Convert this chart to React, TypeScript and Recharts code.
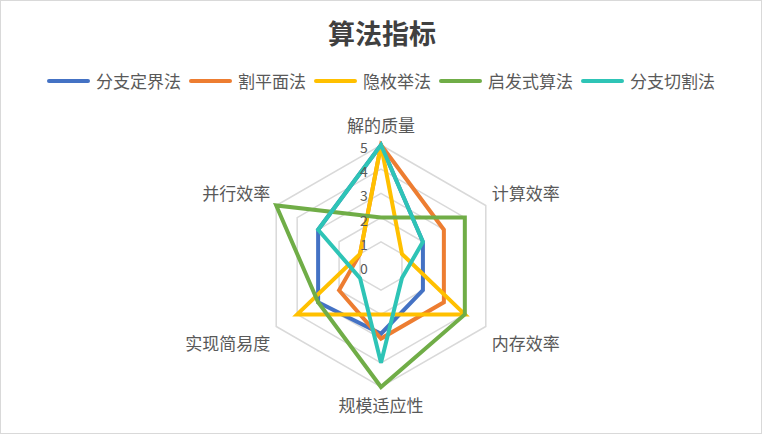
import { Legend, PolarAngleAxis, PolarGrid, PolarRadiusAxis, Radar, RadarChart } from 'recharts'

const categories = ['解的质量', '计算效率', '内存效率', '规模适应性', '实现简易度', '并行效率']
const seriesNames = ['分支定界法', '割平面法', '隐枚举法', '启发式算法', '分支切割法']
const branchBound = [5, 2, 2, 2.8, 3, 3]
const cuttingPlane = [5, 3, 3, 3, 2, 1]
const implicitEnum = [5, 1, 4, 2, 4, 1]
const heuristic = [2, 4, 4, 5, 3, 5]
const branchCut = [5, 2, 1, 4, 1, 3]
const radiusTicks = [0, 1, 2, 3, 4, 5]

const seriesValues = [branchBound, cuttingPlane, implicitEnum, heuristic, branchCut]
const seriesKeys = ['s0', 's1', 's2', 's3', 's4']
const seriesColors = ['#4472C4', '#ED7D31', '#FFC000', '#70AD47', '#2EC4B6']

const chartData = categories.map((name, i) => {
  const row: Record<string, string | number> = { name }
  seriesKeys.forEach((key, s) => {
    row[key] = seriesValues[s][i]
  })
  return row
})

const CX = 381
const CY = 266
const R = 121
const fontFamily = '"Noto Sans CJK SC", "Noto Sans", sans-serif'
const textColor = '#595959'

function renderAngleTick(props: any) {
  const angle = (props.payload.coordinate * Math.PI) / 180
  const cos = Math.cos(angle)
  const sin = Math.sin(angle)
  let x = CX + R * cos
  let y = CY - R * sin
  let anchor: 'start' | 'middle' | 'end' = 'middle'
  if (Math.abs(cos) < 0.01) {
    y += sin > 0 ? -21 : 17
  } else {
    anchor = cos > 0 ? 'start' : 'end'
    x += cos > 0 ? 6 : -6
    y += sin > 0 ? -13 : 16
  }
  return (
    <text
      x={x}
      y={y}
      textAnchor={anchor}
      dominantBaseline="central"
      fill={textColor}
      fontSize={17}
      fontFamily={fontFamily}
    >
      {props.payload.value}
    </text>
  )
}

function renderRadiusTick(props: any) {
  return (
    <text
      x={props.x - 17}
      y={props.y + 2}
      textAnchor="middle"
      dominantBaseline="central"
      fill={textColor}
      fontSize={14}
      fontFamily={fontFamily}
    >
      {props.payload.value}
    </text>
  )
}

function renderLegend() {
  return (
    <div
      style={{
        display: 'flex',
        justifyContent: 'center',
        alignItems: 'center',
        fontFamily,
        fontSize: 17,
        color: textColor,
      }}
    >
      {seriesNames.map((name, i) => (
        <div key={name} style={{ display: 'flex', alignItems: 'center', marginRight: i < 4 ? 8 : 0 }}>
          <span
            style={{
              display: 'inline-block',
              width: 43,
              height: 4,
              borderRadius: 2,
              background: seriesColors[i],
              marginRight: 6,
            }}
          />
          <span>{name}</span>
        </div>
      ))}
    </div>
  )
}

export default function App() {
  return (
    <div
      style={{
        position: 'fixed',
        left: 0,
        top: 0,
        width: 762,
        height: 434,
        boxSizing: 'border-box',
        border: '1px solid #d9d9d9',
        background: '#fff',
      }}
    >
      <div
        style={{
          position: 'absolute',
          left: 0,
          top: 14,
          width: 762,
          textAlign: 'center',
          fontFamily,
          fontSize: 27,
          fontWeight: 700,
          color: '#404040',
          lineHeight: '36px',
        }}
      >
        算法指标
      </div>
      <div style={{ position: 'absolute', left: -1, top: -1 }}>
        <RadarChart width={762} height={434} data={chartData} cx={CX} cy={CY} outerRadius={R}>
          <PolarGrid stroke="#d9d9d9" strokeWidth={1.5} radialLines={false} />
          <PolarAngleAxis dataKey="name" tick={renderAngleTick} axisLine={false} tickLine={false} />
          <PolarRadiusAxis
            angle={90}
            domain={[0, 5]}
            ticks={radiusTicks as any}
            tickCount={6}
            axisLine={false}
            tickLine={false}
            tick={renderRadiusTick}
          />
          {seriesKeys.map((key, i) => (
            <Radar
              key={key}
              name={seriesNames[i]}
              dataKey={key}
              stroke={seriesColors[i]}
              strokeWidth={4}
              fill="none"
              fillOpacity={0}
              dot={false}
              isAnimationActive={false}
            />
          ))}
          <Legend
            verticalAlign="top"
            content={renderLegend}
            wrapperStyle={{ top: 68, left: 0, width: 762 }}
          />
        </RadarChart>
      </div>
    </div>
  )
}
